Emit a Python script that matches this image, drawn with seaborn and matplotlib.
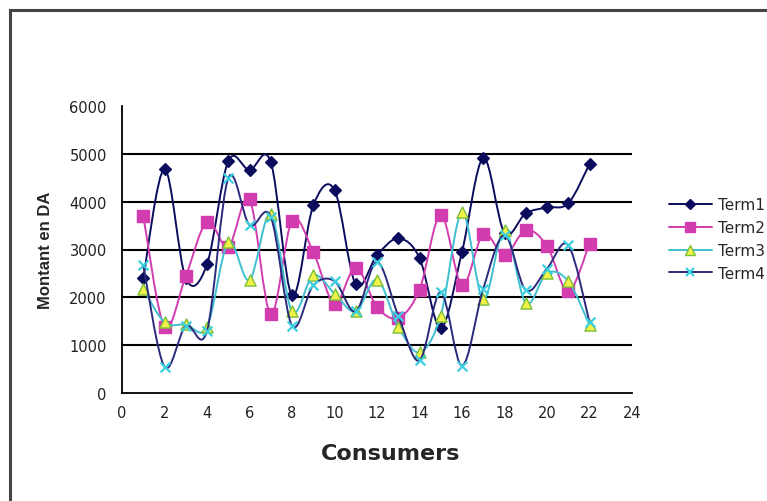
import numpy as np
import pandas as pd
import matplotlib
matplotlib.use("Agg")
import matplotlib.pyplot as plt
from matplotlib.path import Path
from matplotlib.patches import PathPatch, Rectangle
from matplotlib.lines import Line2D
import seaborn as sns

# Data
consumers = list(range(1, 23))
term1 = [2400, 4680, 2400, 2690, 4850, 4660, 4830, 2040, 3920, 4245, 2270,
         2880, 3230, 2825, 1360, 2950, 4910, 3350, 3755, 3880, 3965, 4785]
term2 = [3710, 1390, 2440, 3580, 3055, 4050, 1650, 3600, 2950, 1870, 2620,
         1800, 1570, 2160, 3720, 2250, 3320, 2880, 3405, 3075, 2130, 3125]
term3 = [2180, 1480, 1435, 1380, 3150, 2360, 3735, 1705, 2460, 2080, 1705,
         2370, 1390, 850, 1620, 3775, 1960, 3405, 1880, 2510, 2335, 1425]
term4 = [2670, 550, 1400, 1300, 4490, 3510, 3685, 1410, 2250, 2340, 1705,
         2740, 1620, 680, 2110, 570, 2180, 3300, 2150, 2600, 3090, 1480]
series_names = ["Term1", "Term2", "Term3", "Term4"]

df = pd.DataFrame({"Consumer": consumers * 4,
                   "Montant": term1 + term2 + term3 + term4,
                   "Serie": sum([[n] * len(consumers) for n in series_names], [])})

line_colors = {"Term1": "#0c0c5e", "Term2": "#d23cae", "Term3": "#3ec0d0", "Term4": "#2c2a7c"}
marker_face = {"Term1": "#0c0c5e", "Term2": "#d23cae", "Term3": "#f2f24a", "Term4": "#3ccfe0"}
marker_edge = {"Term1": "#0c0c5e", "Term2": "#d23cae", "Term3": "#7abf3a", "Term4": "#3ccfe0"}
markers = {"Term1": "D", "Term2": "s", "Term3": "^", "Term4": "x"}
msizes = {"Term1": 6, "Term2": 8, "Term3": 8, "Term4": 7}

sns.set_style("white")
plt.rcParams['font.family'] = ['DejaVu Sans']

fig = plt.figure(figsize=(7.67, 5.02), dpi=100)
ax = fig.add_axes([122 / 767, 1 - 394 / 502, 510 / 767, 287 / 502])


def smooth_path(xs, ys):
    # Excel-style smoothed line: cubic Bezier through the points
    p = np.column_stack([xs, ys]).astype(float)
    ext = np.vstack([p[0], p, p[-1]])
    verts = [tuple(p[0])]
    codes = [Path.MOVETO]
    for i in range(len(p) - 1):
        p0, p1, p2, p3 = ext[i], ext[i + 1], ext[i + 2], ext[i + 3]
        c1 = p1 + (p2 - p0) / 6
        c2 = p2 - (p3 - p1) / 6
        verts += [tuple(c1), tuple(c2), tuple(p2)]
        codes += [Path.CURVE4] * 3
    return Path(verts, codes)


for k, name in enumerate(series_names):
    sub = df[df["Serie"] == name]
    patch = PathPatch(smooth_path(sub["Consumer"], sub["Montant"]), facecolor="none",
                      edgecolor=line_colors[name], lw=1.4, zorder=3 + k * 2)
    ax.add_patch(patch)
    sns.scatterplot(data=sub, x="Consumer", y="Montant", marker=markers[name],
                    s=msizes[name] ** 2, color=marker_face[name],
                    edgecolor=marker_edge[name] if name != "Term4" else None,
                    linewidth=1.0 if name != "Term4" else 1.6,
                    ax=ax, zorder=4 + k * 2, legend=False)

ax.set_xlim(0, 24)
ax.set_ylim(0, 6000)
ax.set_xticks(range(0, 25, 2))
ax.set_yticks(range(0, 6001, 1000))
for v in range(1000, 6000, 1000):
    ax.axhline(v, color="black", lw=1.5, zorder=1)

for s in ["top", "right"]:
    ax.spines[s].set_visible(False)
for s in ["left", "bottom"]:
    ax.spines[s].set_color("black")
    ax.spines[s].set_linewidth(1.3)
ax.tick_params(axis="both", direction="out", length=5, width=1.2, color="black",
               labelsize=10.5, labelcolor="#222222", pad=4)
ax.tick_params(axis="y", pad=6)

ax.set_xlabel("Consumers", fontsize=16, fontweight="bold")
ax.xaxis.set_label_coords((391 - 122) / 510, (394 - 444) / 287)
ax.set_ylabel("Montant en DA", fontsize=12, fontweight="bold", labelpad=12,
              family="Liberation Sans")

handles = [Line2D([], [], color=line_colors[n], lw=1.4, marker=markers[n],
                  markersize=msizes[n] - 1, markerfacecolor=marker_face[n],
                  markeredgecolor=marker_edge[n] if n != "Term4" else marker_face[n],
                  markeredgewidth=1.5 if n == "Term4" else 1.0)
           for n in series_names]
fig.legend(handles, series_names, loc="upper left", bbox_to_anchor=(669 / 767, 1 - 198 / 502),
           frameon=False, fontsize=11, handlelength=2.8, handletextpad=0.4,
           labelspacing=0.52, borderaxespad=0, borderpad=0)

# chart border (only top and left visible in the crop)
fig.patches.append(Rectangle((10 / 767, -0.1), 2.0, (1 - 11 / 502) + 0.1,
                             transform=fig.transFigure, fill=False,
                             edgecolor="#444444", lw=2.2))

fig.savefig("out.png", dpi=100)
